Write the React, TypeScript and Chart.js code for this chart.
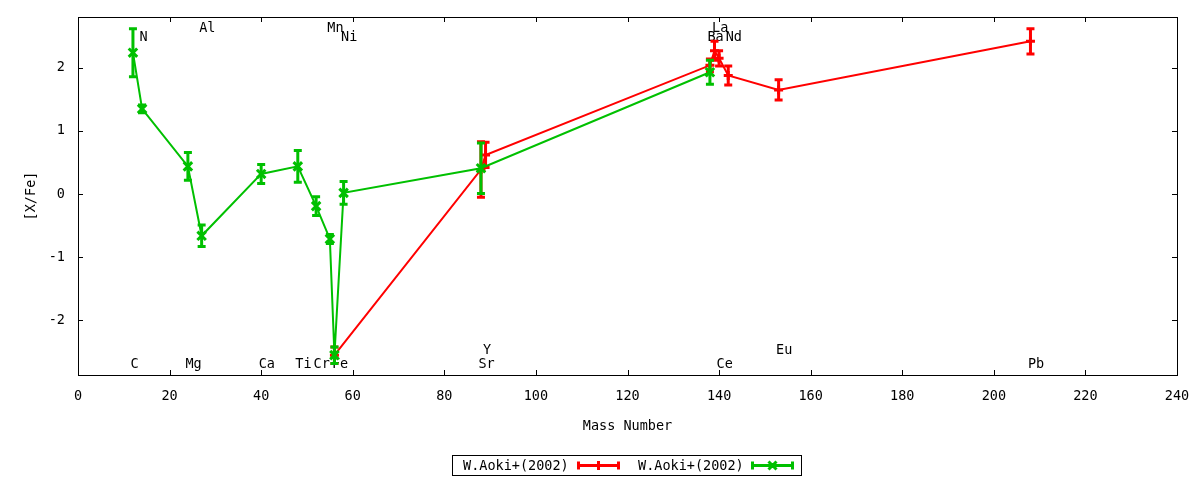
import React, { useEffect, useRef } from "react";
import { Chart, registerables } from "chart.js";

Chart.register(...registerables);

const FONT = "'DejaVu Sans Mono', 'Liberation Mono', monospace";
const FONT_SIZE = 13.5;

// ---- data ----
const redLabel = "W.Aoki+(2002)";
const redMass = [56, 88, 89, 138, 139, 140, 142, 153, 208];
const redValue = [-2.55, 0.39, 0.62, 2.04, 2.27, 2.15, 1.88, 1.65, 2.42];
const redError = [0.13, 0.44, 0.2, 0.1, 0.15, 0.12, 0.15, 0.16, 0.2];

const greenLabel = "W.Aoki+(2002)";
const greenMass = [12, 14, 24, 27, 40, 48, 52, 55, 56, 58, 88, 138];
const greenValue = [2.24, 1.35, 0.44, -0.66, 0.32, 0.44, -0.19, -0.71, -2.55, 0.02, 0.41, 1.93];
const greenError = [0.38, 0.06, 0.22, 0.17, 0.15, 0.25, 0.15, 0.07, 0.13, 0.18, 0.4, 0.19];

const elementNames = ["C", "N", "Mg", "Al", "Ca", "Ti", "Cr", "Mn", "Fe", "Ni", "Sr", "Y", "Ba", "La", "Ce", "Nd", "Eu", "Pb"];
const elementMass = [12, 14, 24, 27, 40, 48, 52, 55, 56, 58, 88, 89, 138, 139, 140, 142, 153, 208];
const elementLabelY = [-2.68, 2.49, -2.68, 2.64, -2.68, -2.68, -2.68, 2.64, -2.68, 2.49, -2.68, -2.46, 2.49, 2.64, -2.68, 2.49, -2.46, -2.68];

const xMin = 0;
const xMax = 240;
const xStep = 20;
const yMin = -2.864;
const yMax = 2.805;
const yStep = 1;

const xTitle = "Mass Number";
const yTitle = "[X/Fe]";

const RED = "#ff0000";
const GREEN = "#00c000";

function drawErrorBar(ctx: CanvasRenderingContext2D, px: number, top: number, bottom: number, color: string) {
  ctx.save();
  ctx.strokeStyle = color;
  ctx.lineWidth = 3;
  ctx.lineCap = "butt";
  ctx.beginPath();
  ctx.moveTo(px, top);
  ctx.lineTo(px, bottom);
  ctx.moveTo(px - 4, top);
  ctx.lineTo(px + 4, top);
  ctx.moveTo(px - 4, bottom);
  ctx.lineTo(px + 4, bottom);
  ctx.stroke();
  ctx.restore();
}

const decorPlugin = {
  id: "gnuplotDecor",
  beforeDatasetsDraw(chart: any) {
    const { ctx, scales } = chart;
    const x = scales.x;
    const y = scales.y;
    ctx.save();
    ctx.font = `${FONT_SIZE}px ${FONT}`;
    ctx.fillStyle = "#000";
    ctx.textAlign = "left";
    ctx.textBaseline = "middle";
    elementNames.forEach((name, i) => {
      ctx.fillText(name, x.getPixelForValue(elementMass[i]) - 2.5, y.getPixelForValue(elementLabelY[i]) + 1);
    });
    ctx.restore();
  },
  beforeDatasetDraw(chart: any, args: any) {
    const ds: any = chart.data.datasets[args.index];
    const errs: number[] = ds.errors || [];
    const y = chart.scales.y;
    const ctx = chart.ctx;
    ctx.save();
    const ca = chart.chartArea;
    ctx.beginPath();
    ctx.rect(ca.left, ca.top, ca.right - ca.left, ca.bottom - ca.top);
    ctx.clip();
    args.meta.data.forEach((pt: any, i: number) => {
      const v = ds.data[i].y;
      const e = errs[i] || 0;
      drawErrorBar(ctx, pt.x, y.getPixelForValue(v + e), y.getPixelForValue(v - e), ds.borderColor);
    });
    ctx.restore();
  },
  afterDraw(chart: any) {
    const { ctx, chartArea: ca, scales } = chart;
    const x = scales.x;
    const y = scales.y;
    ctx.save();
    ctx.strokeStyle = "#000";
    ctx.lineWidth = 1;
    // frame
    ctx.strokeRect(Math.round(ca.left) + 0.5, Math.round(ca.top) + 0.5, Math.round(ca.right - ca.left), Math.round(ca.bottom - ca.top));
    // inward ticks
    ctx.beginPath();
    x.ticks.forEach((t: any) => {
      const px = Math.round(x.getPixelForValue(t.value)) + 0.5;
      ctx.moveTo(px, ca.bottom);
      ctx.lineTo(px, ca.bottom - 5);
      ctx.moveTo(px, ca.top);
      ctx.lineTo(px, ca.top + 5);
    });
    y.ticks.forEach((t: any) => {
      const py = Math.round(y.getPixelForValue(t.value)) + 0.5;
      ctx.moveTo(ca.left, py);
      ctx.lineTo(ca.left + 5, py);
      ctx.moveTo(ca.right, py);
      ctx.lineTo(ca.right - 5, py);
    });
    ctx.stroke();

    // legend
    const boxL = 452.5, boxT = 455.5, boxW = 349, boxH = 20;
    ctx.strokeRect(boxL, boxT, boxW, boxH);
    const cy = boxT + boxH / 2;
    ctx.font = `${FONT_SIZE}px ${FONT}`;
    ctx.fillStyle = "#000";
    ctx.textAlign = "left";
    ctx.textBaseline = "middle";
    ctx.fillText(redLabel, 463, cy + 1);
    ctx.fillText(greenLabel, 638, cy + 1);

    const sample = (x0: number, x1: number, color: string, marker: "plus" | "x") => {
      ctx.save();
      ctx.strokeStyle = color;
      ctx.lineWidth = 3;
      ctx.beginPath();
      ctx.moveTo(x0, cy);
      ctx.lineTo(x1, cy);
      ctx.moveTo(x0 + 1.5, cy - 4);
      ctx.lineTo(x0 + 1.5, cy + 4);
      ctx.moveTo(x1 - 1.5, cy - 4);
      ctx.lineTo(x1 - 1.5, cy + 4);
      const mx = (x0 + x1) / 2;
      if (marker === "plus") {
        ctx.moveTo(mx, cy - 4.5);
        ctx.lineTo(mx, cy + 4.5);
      } else {
        ctx.moveTo(mx - 4, cy - 4);
        ctx.lineTo(mx + 4, cy + 4);
        ctx.moveTo(mx - 4, cy + 4);
        ctx.lineTo(mx + 4, cy - 4);
      }
      ctx.stroke();
      ctx.restore();
    };
    sample(577, 620, RED, "plus");
    sample(751, 794, GREEN, "x");
    ctx.restore();
  },
};

export default function App() {
  const canvasRef = useRef<HTMLCanvasElement | null>(null);

  useEffect(() => {
    if (!canvasRef.current) return;
    Chart.defaults.font.family = FONT;
    Chart.defaults.font.size = FONT_SIZE;
    Chart.defaults.color = "#000";

    const chart = new Chart(canvasRef.current, {
      type: "scatter",
      data: {
        datasets: [
          {
            label: redLabel,
            data: redMass.map((m, i) => ({ x: m, y: redValue[i] })),
            borderColor: RED,
            backgroundColor: RED,
            borderWidth: 2,
            showLine: true,
            pointStyle: "cross",
            pointRadius: 4.5,
            pointBorderWidth: 3,
            pointHoverRadius: 4.5,
            order: 2,
            errors: redError,
          } as any,
          {
            label: greenLabel,
            data: greenMass.map((m, i) => ({ x: m, y: greenValue[i] })),
            borderColor: GREEN,
            backgroundColor: GREEN,
            borderWidth: 2,
            showLine: true,
            pointStyle: "crossRot",
            pointRadius: 6,
            pointBorderWidth: 3,
            pointHoverRadius: 6,
            order: 1,
            errors: greenError,
          } as any,
        ],
      },
      options: {
        animation: false,
        responsive: true,
        maintainAspectRatio: false,
        events: [],
        layout: { padding: { left: 0, right: 23, top: 17, bottom: 0 } },
        plugins: {
          legend: { display: false },
          tooltip: { enabled: false },
        },
        scales: {
          x: {
            type: "linear",
            min: xMin,
            max: xMax,
            grid: { display: false, drawTicks: false },
            border: { display: false },
            ticks: { stepSize: xStep, padding: 13, maxRotation: 0, autoSkip: false, includeBounds: false },
            title: { display: true, text: xTitle, padding: { top: 0, bottom: 45 } },
            afterFit: (s: any) => {
              s.height = 105;
              s.paddingLeft = 0;
              s.paddingRight = 0;
              s.paddingTop = 0;
              s.paddingBottom = 0;
            },
          },
          y: {
            type: "linear",
            min: yMin,
            max: yMax,
            grid: { display: false, drawTicks: false },
            border: { display: false },
            ticks: { stepSize: yStep, padding: 13, includeBounds: false },
            title: { display: true, text: yTitle, padding: { top: 23, bottom: 0 } },
            afterFit: (s: any) => {
              s.width = 78;
              s.paddingLeft = 0;
              s.paddingRight = 0;
              s.paddingTop = 0;
              s.paddingBottom = 0;
            },
          },
        },
      },
      plugins: [decorPlugin as any],
    });
    return () => chart.destroy();
  }, []);

  return (
    <div style={{ position: "fixed", left: 0, top: 0, width: 1200, height: 480, background: "#fff" }}>
      <canvas ref={canvasRef} />
    </div>
  );
}
